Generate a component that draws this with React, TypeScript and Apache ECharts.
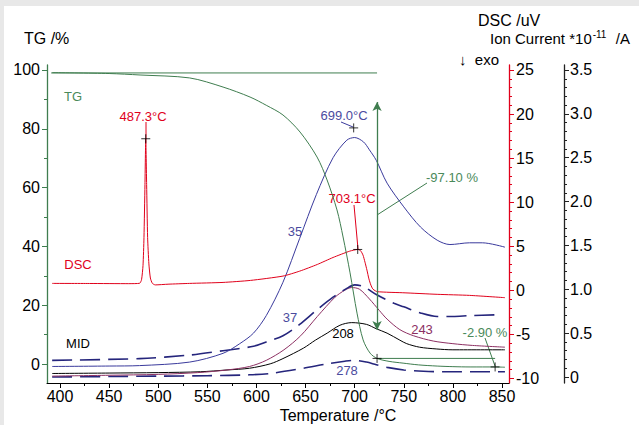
import React, { useEffect, useRef } from "react";
import * as echarts from "echarts";

// ---------- data ----------
const xTicks = [400, 450, 500, 550, 600, 650, 700, 750, 800, 850];
const xMinorTicks = [425, 475, 525, 575, 625, 675, 725, 775, 825];
const tgTicks = [0, 20, 40, 60, 80, 100];
const tgMinorTicks = [10, 30, 50, 70, 90];
const dscTicks = [-10, -5, 0, 5, 10, 15, 20, 25];
const ionTicks = [0, 0.5, 1.0, 1.5, 2.0, 2.5, 3.0, 3.5];

const tgT = [392, 450, 481.5, 532, 566, 593.5, 610, 627, 644.4, 661.7, 671.9, 682, 688.2, 695.3, 702.4, 708.6, 715.7, 722.8, 735, 749.3, 765, 784, 800, 817.5, 843, 853];
const tgV = [99.1, 98.8, 98.3, 97.3, 94.2, 90.8, 88.0, 84.7, 78.9, 70.4, 62.6, 52.4, 43.2, 31.0, 17.3, 8.2, 3.7, 1.9, 0.9, 0.3, -0.3, -0.7, -0.9, -1.0, -1.0, -1.1];

const dscT = [392, 430, 470, 481, 483, 484.5, 485.5, 486.5, 487.3, 488.2, 489.2, 490.5, 492, 494, 497, 510, 532, 566, 594, 627, 644, 662, 678, 695, 703.1, 706, 708.5, 710.5, 712.5, 714.5, 716.5, 718.5, 721, 723, 735, 749, 784, 817, 853];
const dscV = [0.79, 0.78, 0.76, 0.8, 1.2, 2.8, 6, 12, 17.2, 12, 6, 3, 1.4, 0.8, 0.62, 0.7, 0.79, 0.9, 1.13, 1.62, 2.18, 2.94, 3.73, 4.45, 4.64, 4.5, 4.0, 3.2, 2.3, 1.3, 0.6, 0.15, -0.05, -0.15, -0.22, -0.27, -0.45, -0.57, -0.83];

const m35T = [392, 450, 481, 532, 566, 583, 597, 610, 627, 644, 661, 678, 692, 700, 709, 715, 722, 733, 750, 767, 784, 797, 817, 830, 853];
const m35V = [0.12, 0.125, 0.13, 0.17, 0.27, 0.38, 0.5, 0.7, 1.08, 1.58, 2.08, 2.5, 2.7, 2.73, 2.68, 2.59, 2.47, 2.21, 1.94, 1.71, 1.56, 1.51, 1.53, 1.53, 1.48];

const m37T = [392, 481, 532, 566, 597, 610, 627, 644, 661, 678, 692, 700, 709, 722, 740, 750, 767, 784, 800, 817, 846];
const m37V = [0.19, 0.21, 0.25, 0.3, 0.35, 0.4, 0.47, 0.6, 0.76, 0.91, 1.01, 1.05, 1.03, 0.94, 0.84, 0.8, 0.73, 0.69, 0.69, 0.7, 0.71];

const m208T = [392, 450, 500, 543, 570, 593, 614, 627, 648, 660, 672, 685, 697, 712, 722, 733, 746, 753, 766, 783, 800, 853];
const m208V = [0.04, 0.045, 0.05, 0.06, 0.08, 0.1, 0.15, 0.21, 0.33, 0.42, 0.5, 0.59, 0.62, 0.6, 0.55, 0.5, 0.42, 0.38, 0.34, 0.32, 0.31, 0.31];

const m243T = [392, 450, 500, 540, 570, 593, 610, 628, 645, 662, 680, 690, 697, 705, 715, 725, 733, 746, 760, 780, 800, 820, 853];
const m243V = [0.01, 0.02, 0.03, 0.05, 0.08, 0.12, 0.19, 0.31, 0.47, 0.69, 0.91, 0.99, 1.02, 1.0, 0.89, 0.76, 0.66, 0.54, 0.47, 0.41, 0.38, 0.36, 0.34];

const m278T = [392, 450, 500, 550, 593, 614, 648, 672, 690, 699, 712, 722, 733, 750, 770, 790, 853];
const m278V = [0.0, 0.005, 0.01, 0.015, 0.025, 0.04, 0.1, 0.15, 0.18, 0.19, 0.17, 0.14, 0.11, 0.08, 0.065, 0.06, 0.06];

// TG step evaluation
const tgStepTemps = [391, 722.8, 843];
const tgStepLevels = [99.0, 1.9, -1.0];
const tgArrowEnds = [89.1, 11.6];

// peak markers
const dscPeaks = [[487.3, 17.2], [703.1, 4.64]];
const ionPeaks = [[699.0, 2.84]];

// ---------- helpers ----------
const zip = (xs: number[], ys: number[]) => xs.map((x, i) => [x, ys[i]]);
const FONT = '"Liberation Sans", Arial, Helvetica, sans-serif';

const X_MIN = 386.76, X_MAX = 857.13;
const TG_MIN = -6.46, TG_MAX = 101.7;
const DSC_MIN = -10.51, DSC_MAX = 25.567;
const ION_MIN = -0.0684, ION_MAX = 3.557;

const GREEN = "#3f7d4f";
const GREEN_T = "#4a8a5a";
const RED = "#e0001b";
const BLUE = "#3a3a9c";
const BLUE_T = "#4b4b9e";
const NAVY = "#25257c";
const MAROON = "#8c2f62";

const range = (a: number, b: number, step: number) => {
  const out: number[] = [];
  for (let v = a; v <= b + 1e-9; v += step) out.push(+v.toFixed(3));
  return out;
};
const dscMinor = range(-10, 25, 1).filter((v) => Math.abs(v % 5) > 1e-6);
const ionMinor = range(0, 3.5, 0.1).filter((v) => Math.abs((v * 10) % 5) > 1e-6);

const CROSS = "path://M0,5L10,5M5,0L5,10";
const DASH = [20, 8];

function buildOption() {
  const baseY = {
    type: "value",
    splitLine: { show: false },
  };
  const txt = (text: string, x: number, y: number, fill: string, fontSize = 13, align = "center") => ({
    type: "text",
    x,
    y,
    silent: true,
    style: { text, fill, fontSize, fontFamily: FONT, align, verticalAlign: "middle" },
  });
  const ln = (x1: number, y1: number, x2: number, y2: number, stroke: string) => ({
    type: "line",
    silent: true,
    shape: { x1, y1, x2, y2 },
    style: { stroke, lineWidth: 1 },
  });
  const crossSeries = (data: number[][], yAxisIndex: number) => ({
    type: "scatter",
    xAxisIndex: 0,
    yAxisIndex,
    data,
    symbol: CROSS,
    symbolSize: 9,
    itemStyle: { color: "#000", borderColor: "#000", borderWidth: 1 },
    z: 10,
  });
  const lineSeries = (data: number[][], yAxisIndex: number, color: string, extra: any = {}) => ({
    type: "line",
    xAxisIndex: 0,
    yAxisIndex,
    data,
    symbol: "none",
    smooth: 0.3,
    itemStyle: { color },
    ...extra,
    lineStyle: { color, width: 1, ...(extra.lineStyle || {}) },
  });

  return {
    animation: false,
    backgroundColor: "transparent",
    textStyle: { fontFamily: FONT },
    grid: { left: 47, right: 130, top: 65, bottom: 42, containLabel: false },
    xAxis: [
      {
        type: "value",
        min: X_MIN,
        max: X_MAX,
        position: "bottom",
        axisLine: { show: true, onZero: false, lineStyle: { color: "#000", width: 1 } },
        axisTick: { show: true, customValues: xTicks, length: 5, lineStyle: { color: "#000" } },
        axisLabel: { show: true, customValues: xTicks, fontSize: 16, color: "#000", margin: 5, fontFamily: FONT },
        splitLine: { show: false },
      },
      {
        type: "value",
        min: X_MIN,
        max: X_MAX,
        position: "bottom",
        axisLine: { show: false, onZero: false },
        axisTick: { show: true, customValues: xMinorTicks, length: 3, lineStyle: { color: "#000" } },
        axisLabel: { show: false },
        splitLine: { show: false },
      },
    ],
    yAxis: [
      {
        ...baseY,
        min: TG_MIN,
        max: TG_MAX,
        position: "left",
        axisLine: { show: true, onZero: false, lineStyle: { color: GREEN, width: 1.3 } },
        axisTick: { show: true, customValues: tgTicks, length: 5, lineStyle: { color: GREEN } },
        axisLabel: { show: true, customValues: tgTicks, fontSize: 16, color: "#000", margin: 7, fontFamily: FONT },
      },
      {
        ...baseY,
        min: TG_MIN,
        max: TG_MAX,
        position: "left",
        axisLine: { show: false, onZero: false },
        axisTick: { show: true, customValues: tgMinorTicks, length: 3, lineStyle: { color: GREEN } },
        axisLabel: { show: false },
      },
      {
        ...baseY,
        min: DSC_MIN,
        max: DSC_MAX,
        position: "right",
        offset: 0,
        axisLine: { show: true, onZero: false, lineStyle: { color: RED, width: 1.3 } },
        axisTick: { show: true, customValues: dscTicks, length: 5, lineStyle: { color: RED } },
        axisLabel: { show: true, customValues: dscTicks, fontSize: 16, color: "#000", margin: 7, fontFamily: FONT },
      },
      {
        ...baseY,
        min: DSC_MIN,
        max: DSC_MAX,
        position: "right",
        offset: 0,
        axisLine: { show: false, onZero: false },
        axisTick: { show: true, customValues: dscMinor, length: 3, lineStyle: { color: RED } },
        axisLabel: { show: false },
      },
      {
        ...baseY,
        min: ION_MIN,
        max: ION_MAX,
        position: "right",
        offset: 55,
        axisLine: { show: true, onZero: false, lineStyle: { color: "#222", width: 1.3 } },
        axisTick: { show: true, customValues: ionTicks, length: 5, lineStyle: { color: "#222" } },
        axisLabel: {
          show: true,
          customValues: ionTicks,
          fontSize: 16,
          color: "#000",
          margin: 6,
          fontFamily: FONT,
          formatter: (v: number) => (v === 0 ? "0" : v.toFixed(1)),
        },
      },
      {
        ...baseY,
        min: ION_MIN,
        max: ION_MAX,
        position: "right",
        offset: 55,
        axisLine: { show: false, onZero: false },
        axisTick: { show: true, customValues: ionMinor, length: 3, lineStyle: { color: "#222" } },
        axisLabel: { show: false },
      },
    ],
    series: [
      // MID curves
      lineSeries(zip(m278T, m278V), 4, NAVY, { lineStyle: { width: 1.6, type: DASH } }),
      lineSeries(zip(m208T, m208V), 4, "#000"),
      lineSeries(zip(m243T, m243V), 4, MAROON),
      lineSeries(zip(m37T, m37V), 4, NAVY, { lineStyle: { width: 1.6, type: DASH } }),
      lineSeries(zip(m35T, m35V), 4, BLUE),
      // DSC
      lineSeries(zip(dscT, dscV), 2, RED, { smooth: 0.2 }),
      // TG
      lineSeries(zip(tgT, tgV), 0, GREEN),
      // TG step reference lines
      {
        type: "line",
        xAxisIndex: 0,
        yAxisIndex: 0,
        data: [[tgStepTemps[0], tgStepLevels[0]], [tgStepTemps[1], tgStepLevels[0]]],
        symbol: "none",
        lineStyle: { color: GREEN, width: 1 },
        markLine: {
          silent: true,
          symbol: ["arrow", "arrow"],
          symbolSize: [7, 9],
          label: { show: false },
          lineStyle: { color: GREEN, width: 1.3, type: "solid" },
          data: [[{ coord: [tgStepTemps[1], tgArrowEnds[0]] }, { coord: [tgStepTemps[1], tgArrowEnds[1]] }]],
        },
      },
      {
        type: "line",
        xAxisIndex: 0,
        yAxisIndex: 0,
        data: [[tgStepTemps[1], tgStepLevels[1]], [tgStepTemps[2], tgStepLevels[1]]],
        symbol: "none",
        lineStyle: { color: GREEN, width: 1 },
      },
      // crosses
      crossSeries([[tgStepTemps[1], tgStepLevels[1]], [tgStepTemps[2], tgStepLevels[2]]], 0),
      crossSeries(dscPeaks, 2),
      crossSeries(ionPeaks, 4),
    ],
    graphic: [
      txt("TG /%", 24, 38, "#000", 16, "left"),
      txt("DSC /uV", 478, 20, "#000", 16, "left"),
      {
        type: "text",
        x: 490,
        y: 38,
        silent: true,
        style: {
          text: "{a|Ion Current *10}{s|-11}{a|  /A}",
          fill: "#000",
          fontFamily: FONT,
          align: "left",
          verticalAlign: "middle",
          rich: {
            a: { fontSize: 15, fontFamily: FONT, fill: "#000" },
            s: { fontSize: 10, fontFamily: FONT, fill: "#000", padding: [0, 1, 8, 1] },
          },
        },
      },
      txt("\u2193  exo", 459, 59, "#000", 15, "left"),
      txt("Temperature /\u00B0C", 338, 415, "#000", 16, "center"),
      txt("TG", 73, 96, GREEN_T),
      txt("487.3\u00B0C", 143, 116, RED),
      txt("DSC", 78, 264, RED),
      txt("MID", 78, 343, "#000"),
      txt("699.0\u00B0C", 344, 115, BLUE_T),
      txt("703.1\u00B0C", 352, 198, RED),
      txt("35", 295, 231, BLUE_T),
      txt("37", 290, 317, BLUE_T),
      txt("208", 343, 333, "#000"),
      txt("243", 422, 329, MAROON),
      txt("278", 347, 370, BLUE_T),
      txt("-97.10 %", 452, 177, GREEN_T),
      txt("-2.90 %", 485, 332, GREEN_T),
      ln(146, 122, 146, 139, RED),
      ln(341, 122, 353, 127, BLUE),
      ln(354, 205, 358, 249, RED),
      ln(377, 215, 427, 183, GREEN),
      ln(485, 338, 495, 366, GREEN),
    ],
  };
}

export default function App() {
  const ref = useRef<HTMLDivElement>(null);
  useEffect(() => {
    document.body.style.margin = "0";
    if (!ref.current) return;
    const chart = echarts.init(ref.current, undefined, { renderer: "svg", width: 639, height: 425 });
    chart.setOption(buildOption() as any);
    return () => chart.dispose();
  }, []);
  return (
    <div style={{ position: "relative", width: 639, height: 425, background: "#e8e8e8", overflow: "hidden" }}>
      <div style={{ position: "absolute", left: 4, top: 6, right: 0, bottom: 0, background: "#fff" }} />
      <div ref={ref} style={{ position: "absolute", left: 0, top: 0, width: 639, height: 425 }} />
    </div>
  );
}
